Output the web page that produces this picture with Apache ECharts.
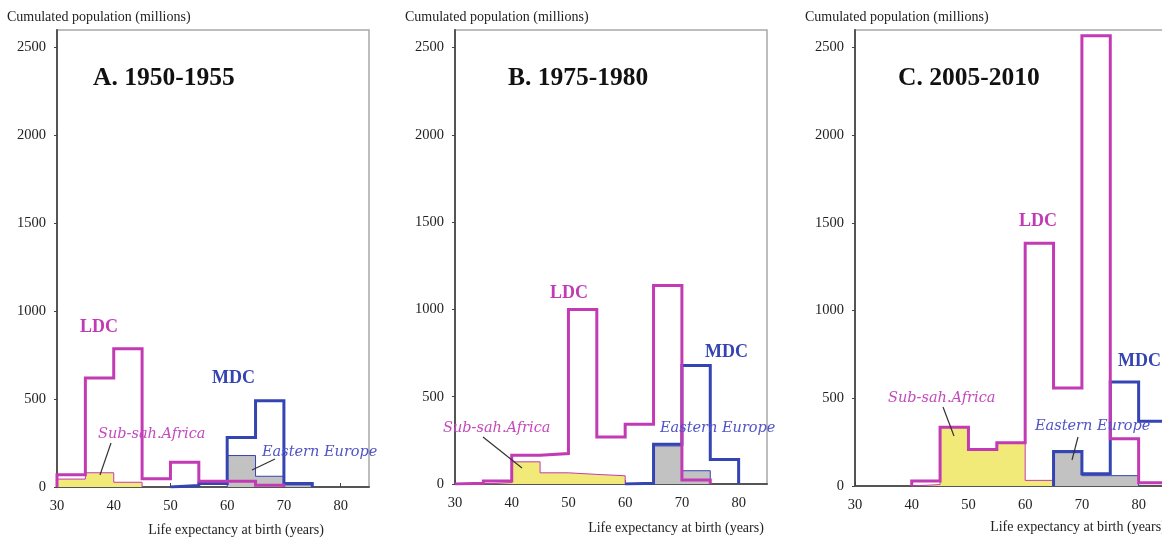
<!DOCTYPE html>
<html>
<head>
<meta charset="utf-8">
<script src="https://cdn.jsdelivr.net/npm/echarts@6/dist/echarts.min.js"></script>
<style>
  html, body { margin: 0; padding: 0; background: #fff; overflow: hidden; }
  #chart { width: 1200px; height: 538px; }
</style>
</head>
<body>
<div id="chart"></div>
<script>
// 5-year life expectancy bins, values = population in millions
const binWidth = 5
const xTicks = [30, 40, 50, 60, 70, 80]
const yTicks = [0, 500, 1000, 1500, 2000, 2500]

// A. 1950-1955
const ldcA = [70, 620, 787, 47, 141, 33, 33, 10]       // from 30
const mdcA = [8, 20, 282, 490, 20]                     // from 50
const ssaA = [45, 81, 27]                              // from 30
const eeA = [179, 61, 12]                              // from 60

// B. 1975-1980
const ldcB = [4, 17, 165, 174, 1000, 269, 342, 1137, 23] // from 30
const mdcB = [4, 228, 678, 140]                          // from 60
const ssaB = [8, 127, 64, 55, 47]                        // from 35
const eeB = [218, 76]                                    // from 65

// C. 2005-2010
const ldcC = [28, 335, 208, 246, 1384, 559, 2567, 269, 19] // from 40
const mdcC = [197, 70, 593, 369]                           // from 65
const ssaC = [8, 335, 208, 246, 32]                        // from 40
const eeC = [190, 59, 59]                                  // from 65

const panels = [
  { title: 'A. 1950-1955', ldc: [30, ldcA], mdc: [50, mdcA], ssa: [30, ssaA], ee: [60, eeA] },
  { title: 'B. 1975-1980', ldc: [30, ldcB], mdc: [60, mdcB], ssa: [35, ssaB], ee: [65, eeB] },
  { title: 'C. 2005-2010', ldc: [40, ldcC], mdc: [65, mdcC], ssa: [40, ssaC], ee: [65, eeC] }
]

const MAGENTA = '#c23ab4'
const BLUE = '#3444b2'
const SERIF = '"Liberation Serif", "Times New Roman", serif'

// step outline of a histogram from its first bin edge and bin values
function outline (start, vals) {
  const pts = [[start, 0]]
  let x = start
  vals.forEach(v => {
    pts.push([x, v])
    x += binWidth
    pts.push([x, v])
  })
  pts.push([x, 0])
  return pts
}

const grids = [
  { left: 57, top: 30, width: 312, height: 457 },
  { left: 455, top: 30, width: 312, height: 454 },
  { left: 855, top: 30, width: 312, height: 456 }
]

const option = {
  animation: false,
  backgroundColor: '#fff',
  grid: grids.map(g => Object.assign({ show: true, borderColor: '#a8a8a8', borderWidth: 1.5, backgroundColor: '#fff' }, g)),
  xAxis: grids.map((g, i) => ({
    type: 'value', gridIndex: i, min: 30, max: 85, interval: 10,
    axisLine: { show: true, onZero: false, lineStyle: { color: '#555', width: 2 } },
    axisTick: { show: true, inside: true, length: 4, lineStyle: { color: '#444' } },
    axisLabel: {
      showMaxLabel: false, margin: 12, fontFamily: SERIF, fontSize: 14.5, color: '#222',
      formatter: v => (xTicks.includes(v) ? String(v) : '')
    },
    splitLine: { show: false }
  })),
  yAxis: grids.map((g, i) => ({
    type: 'value', gridIndex: i, min: 0, max: 2600, interval: 500,
    axisLine: { show: true, onZero: false, lineStyle: { color: '#555', width: 2 } },
    axisTick: { show: true, inside: false, length: 3, lineStyle: { color: '#444' } },
    axisLabel: {
      showMaxLabel: false, margin: 11, fontFamily: SERIF, fontSize: 14.5, color: '#222',
      formatter: v => (yTicks.includes(v) ? String(v) : '')
    },
    splitLine: { show: false }
  })),
  series: [],
  graphic: []
}

panels.forEach((p, i) => {
  const common = { type: 'line', xAxisIndex: i, yAxisIndex: i, showSymbol: false, symbol: 'none', silent: true }
  option.series.push(Object.assign({}, common, {
    name: 'Sub-sah.Africa', data: outline(p.ssa[0], p.ssa[1]), z: 2,
    lineStyle: { color: MAGENTA, width: 1, join: 'miter' },
    areaStyle: { color: '#f2ea78', opacity: 1 }
  }))
  option.series.push(Object.assign({}, common, {
    name: 'Eastern Europe', data: outline(p.ee[0], p.ee[1]), z: 2,
    lineStyle: { color: BLUE, width: 1, join: 'miter' },
    areaStyle: { color: '#c2c2c2', opacity: 1 }
  }))
  option.series.push(Object.assign({}, common, {
    name: 'MDC', data: outline(p.mdc[0], p.mdc[1]), z: 3,
    lineStyle: { color: BLUE, width: 3, join: 'miter' }
  }))
  option.series.push(Object.assign({}, common, {
    name: 'LDC', data: outline(p.ldc[0], p.ldc[1]), z: 4,
    lineStyle: { color: MAGENTA, width: 3, join: 'miter' }
  }))
})

function txt (x, y, text, style) {
  return {
    type: 'text', x, y, z: 100,
    style: Object.assign({ text, fontFamily: SERIF, fill: '#222', textVerticalAlign: 'middle' }, style)
  }
}
function ln (x1, y1, x2, y2) {
  return { type: 'line', z: 100, shape: { x1, y1, x2, y2 }, style: { stroke: '#333', lineWidth: 1.2 } }
}

const italic = { fontFamily: '"DejaVu Serif", serif', fontStyle: 'italic', fontSize: 14.5 }
const bold = { fontWeight: 'bold', fontSize: 18 }
const axisTitle = { fontSize: 14, fill: '#222' }
const panelTitle = { fontSize: 25.5, fontWeight: 'bold', fill: '#111' }

option.graphic = [
  // axis titles
  txt(7, 17, 'Cumulated population (millions)', axisTitle),
  txt(405, 17, 'Cumulated population (millions)', axisTitle),
  txt(805, 17, 'Cumulated population (millions)', axisTitle),
  txt(236, 530, 'Life expectancy at birth (years)', Object.assign({ textAlign: 'center' }, axisTitle)),
  txt(676, 528, 'Life expectancy at birth (years)', Object.assign({ textAlign: 'center' }, axisTitle)),
  txt(1078, 527, 'Life expectancy at birth (years)', Object.assign({ textAlign: 'center' }, axisTitle)),
  // panel titles
  txt(93, 78, panels[0].title, panelTitle),
  txt(508, 78, panels[1].title, panelTitle),
  txt(898, 78, panels[2].title, panelTitle),
  // group labels
  txt(80, 327, 'LDC', Object.assign({ fill: MAGENTA }, bold)),
  txt(212, 378, 'MDC', Object.assign({ fill: BLUE }, bold)),
  txt(98, 434, 'Sub-sah.Africa', Object.assign({ fill: '#c449bc' }, italic)),
  txt(262, 452, 'Eastern Europe', Object.assign({ fill: '#5054c4' }, italic)),
  ln(111, 443, 100, 475),
  ln(275, 459, 252, 470),

  txt(550, 293, 'LDC', Object.assign({ fill: MAGENTA }, bold)),
  txt(705, 352, 'MDC', Object.assign({ fill: BLUE }, bold)),
  txt(443, 428, 'Sub-sah.Africa', Object.assign({ fill: '#c449bc' }, italic)),
  txt(660, 428, 'Eastern Europe', Object.assign({ fill: '#5054c4' }, italic)),
  ln(483, 437, 522, 468),

  txt(1019, 221, 'LDC', Object.assign({ fill: MAGENTA }, bold)),
  txt(1118, 361, 'MDC', Object.assign({ fill: BLUE }, bold)),
  txt(888, 398, 'Sub-sah.Africa', Object.assign({ fill: '#c449bc' }, italic)),
  txt(1035, 426, 'Eastern Europe', Object.assign({ fill: '#5054c4' }, italic)),
  ln(943, 407, 954, 436),
  ln(1078, 437, 1072, 460)
]

const chart = echarts.init(document.getElementById('chart'))
chart.setOption(option)
</script>
</body>
</html>
